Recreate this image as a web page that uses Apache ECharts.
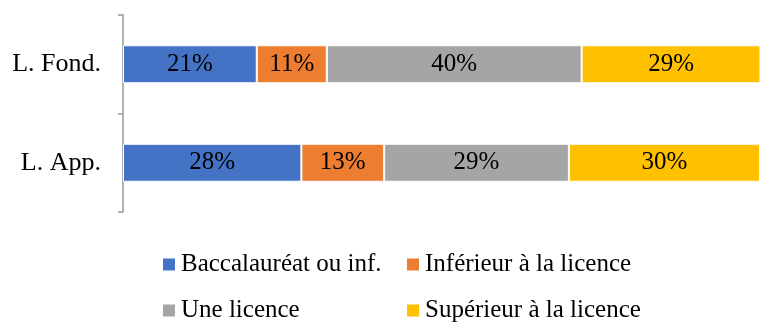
<!DOCTYPE html>
<html>
<head>
<meta charset="utf-8">
<script src="https://cdn.jsdelivr.net/npm/echarts@6/dist/echarts.min.js"></script>
<style>
  html, body { margin: 0; padding: 0; background: #fff; }
  #chart { width: 760px; height: 322px; }
</style>
</head>
<body>
<div id="chart"></div>
<script>
// Licence types (top to bottom)
const categories = ['L. Fond.', 'L. App.'];

// Share of each diploma level, in percent
const seriesNames = [
  'Baccalauréat ou inf.',
  'Inférieur à la licence',
  'Une licence',
  'Supérieur à la licence'
];
const bacOuInf = [21, 28];
const inferieurLicence = [11, 13];
const uneLicence = [40, 29];
const superieurLicence = [29, 30];

const colors = ['#4472C4', '#ED7D31', '#A5A5A5', '#FFC000'];
const values = [bacOuInf, inferieurLicence, uneLicence, superieurLicence];

const FONT = '"Liberation Serif", "DejaVu Serif", serif';

const chart = echarts.init(document.getElementById('chart'));

const series = seriesNames.map((name, i) => ({
  name: name,
  type: 'bar',
  stack: 'total',
  barWidth: 38,
  data: values[i],
  itemStyle: { color: colors[i], borderColor: '#ffffff', borderWidth: 1 },
  label: {
    show: true,
    position: 'inside',
    formatter: '{c}%',
    color: '#000',
    fontFamily: FONT,
    fontSize: 25
  },
  emphasis: { disabled: true }
}));

// Legend laid out as a 2 x 2 grid: one legend block per entry
const legendSlots = [
  { left: 161, top: 252 },
  { left: 405, top: 252 },
  { left: 161, top: 298 },
  { left: 405, top: 298 }
];
const legends = seriesNames.map((name, i) => ({
  orient: 'horizontal',
  left: legendSlots[i].left,
  top: legendSlots[i].top,
  padding: 0,
  itemWidth: 14,
  itemHeight: 14,
  icon: 'rect',
  data: [name],
  textStyle: { fontFamily: FONT, fontSize: 25, color: '#000', lineHeight: 24 }
}));

chart.setOption({
  animation: false,
  color: colors,
  grid: { left: 123, top: 15, width: 640, height: 197, containLabel: false },
  xAxis: {
    type: 'value',
    min: 0,
    max: 100,
    show: false
  },
  yAxis: {
    type: 'category',
    inverse: true,
    data: categories,
    axisLine: { show: true, lineStyle: { color: '#999999', width: 1.5 } },
    axisTick: { show: true, length: 5, lineStyle: { color: '#999999', width: 1.5 } },
    axisLabel: { margin: 22, fontFamily: FONT, fontSize: 26, color: '#000' }
  },
  legend: legends,
  series: series
});
</script>
</body>
</html>
